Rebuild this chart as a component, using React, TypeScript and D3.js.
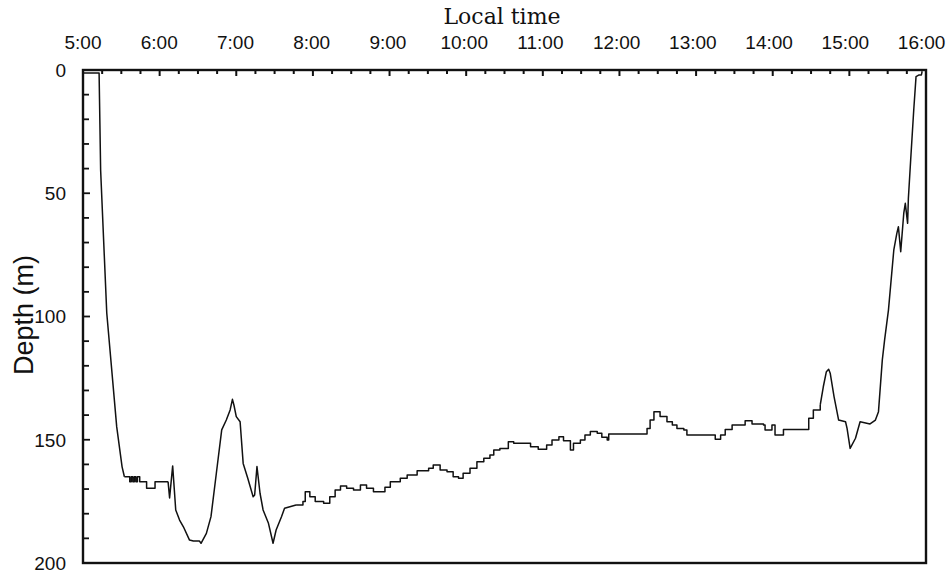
import * as d3 from "d3";

// dive profile: time (decimal hours, local) and depth (m)
const times = [
  5.0, 5.21, 5.23, 5.31, 5.44, 5.51, 5.54, 5.61, 5.63, 5.65, 5.67, 5.69, 5.71, 5.74,
  5.83, 5.94, 6.11, 6.13, 6.17, 6.21, 6.26, 6.31, 6.39, 6.44, 6.52, 6.54, 6.61, 6.67,
  6.74, 6.81, 6.87, 6.92, 6.95, 6.97, 7.0, 7.05, 7.09, 7.15, 7.22, 7.24, 7.27, 7.31,
  7.35, 7.42, 7.48, 7.52, 7.59, 7.63, 7.78, 7.87, 7.9, 7.96, 8.03, 8.14, 8.22, 8.29,
  8.36, 8.44, 8.53, 8.62, 8.7, 8.79, 8.88, 8.94, 9.01, 9.14, 9.23, 9.36, 9.51, 9.57,
  9.66, 9.75, 9.83, 9.9, 9.96, 10.05, 10.14, 10.23, 10.31, 10.36, 10.44, 10.55, 10.62,
  10.79, 10.84, 10.94, 11.05, 11.12, 11.21, 11.27, 11.36, 11.4, 11.49, 11.55, 11.62,
  11.71, 11.77, 11.84, 11.86, 12.31, 12.36, 12.4, 12.45, 12.49, 12.53, 12.62, 12.69,
  12.75, 12.84, 12.88, 13.19, 13.25, 13.32, 13.38, 13.47, 13.58, 13.64, 13.73, 13.88,
  13.9, 13.99, 14.03, 14.14, 14.4, 14.47, 14.53, 14.62, 14.66, 14.7, 14.73, 14.75,
  14.8, 14.86, 14.95, 14.97, 15.01, 15.08, 15.14, 15.27, 15.34, 15.38, 15.43, 15.46,
  15.51, 15.58, 15.62, 15.64, 15.67, 15.71, 15.73, 15.76, 15.77, 15.8, 15.84, 15.87,
  15.91, 15.94, 15.95,
];
const depths = [
  1.2, 1.2, 40.6, 98.6, 144.8, 161, 165, 167, 165, 167, 165, 167, 165, 167,
  169.7, 167, 167, 173.6, 160.6, 178.5, 182.6, 185.3, 190.7, 191.1, 191.1, 192, 188, 181.2,
  163.6, 146, 142, 137.9, 133.6, 136, 140.6, 142.7, 159.6, 165.6, 173.1, 172.4, 160.9, 171.7,
  178.5, 183.9, 192, 186.6, 181.2, 177.8, 176.5, 175.1, 171.1, 173.1, 175.1, 175.8, 173.1, 170.4,
  168.8, 169.7, 170.4, 168.4, 169.7, 171.1, 171.1, 169.3, 167, 165.6, 164.3, 162.6, 161.6, 160.2,
  162.3, 163, 165, 165.6, 163.6, 161.6, 158.9, 157.5, 156.2, 154.2, 153.5, 150.8, 151.4,
  151.4, 152.8, 153.9, 152.1, 150.1, 148.8, 150.4, 154.2, 151.4, 150.1, 148.1, 146.7,
  147.4, 149, 150.1, 147.7, 147.7, 145.4, 142, 138.6, 138.6, 140.6, 142.7, 144,
  145.4, 146, 148.1, 148.1, 149.8, 148.1, 145.8, 144, 144, 142.3, 143.6, 144,
  146, 144, 148.1, 145.8, 145.8, 141.3, 137.9, 135.9, 128.5, 122.4, 121.4, 123,
  132.5, 142, 142.7, 145.4, 153.5, 149.4, 142.7, 143.6, 142, 138.6, 117.6, 109.5,
  97.4, 73, 66.2, 63.6, 73.7, 58.1, 54.1, 62.2, 52, 36.5, 16.2, 2.7,
  2, 2, 0.5,
];

// plateau stretches of the record are drawn as steps (sensor resolution)
const stepRanges: [number, number][] = [
  [5.54, 6.11],
  [7.78, 14.62],
];

const hourLabels = ["5:00", "6:00", "7:00", "8:00", "9:00", "10:00", "11:00", "12:00", "13:00", "14:00", "15:00", "16:00"];
const depthTicks = [0, 50, 100, 150, 200];

const W = 947;
const H = 573;
const L = 83;
const R = 926;
const T = 70;
const B = 563;

export default function App() {
  const x = d3.scaleLinear().domain([5, 16]).range([L, R]);
  const y = d3.scaleLinear().domain([0, 200]).range([T, B]);

  const pts: [number, number][] = times.map((t, i) => [t, depths[i]]);

  // split the record into linear and stepped pieces
  const edges = [5, ...stepRanges.flat(), 16];
  const pieces = d3.range(edges.length - 1).map((k) => ({
    stepped: k % 2 === 1,
    data: pts.filter((d) => d[0] >= edges[k] && d[0] <= edges[k + 1]),
  }));

  const line = d3
    .line<[number, number]>()
    .x((d) => x(d[0]))
    .y((d) => y(d[1]));
  const stepLine = d3
    .line<[number, number]>()
    .x((d) => x(d[0]))
    .y((d) => y(d[1]))
    .curve(d3.curveStepAfter);

  const quarters = d3.range(5, 16.001, 0.25);
  const tens = d3.range(0, 200.001, 10);
  const sans = "'Liberation Sans', Arial, sans-serif";

  return (
    <svg
      width={W}
      height={H}
      style={{ position: "absolute", left: 0, top: 0, background: "#fff" }}
    >
      <text
        x={502}
        y={24}
        textAnchor="middle"
        fontFamily="'DejaVu Serif', serif"
        fontSize={22}
        fill="#111"
      >
        Local time
      </text>
      {hourLabels.map((lab, i) => (
        <text
          key={lab}
          x={x(5 + i) - i * 0.4}
          y={49}
          textAnchor="middle"
          fontFamily={sans}
          fontSize={19}
          fill="#111"
        >
          {lab}
        </text>
      ))}
      {depthTicks.map((d) => (
        <text
          key={d}
          x={66}
          y={y(d)}
          dy="0.36em"
          textAnchor="end"
          fontFamily={sans}
          fontSize={19}
          fill="#111"
        >
          {d}
        </text>
      ))}
      <text
        transform="translate(33,315) rotate(-90)"
        textAnchor="middle"
        fontFamily={sans}
        fontSize={27}
        fill="#111"
      >
        Depth (m)
      </text>

      {/* top ticks, every 15 min */}
      {quarters.map((q, i) => (
        <line
          key={"q" + i}
          x1={x(q)}
          x2={x(q)}
          y1={T}
          y2={T + (i % 4 === 0 ? 6 : 4)}
          stroke="#111"
          strokeWidth={2}
        />
      ))}
      {/* left ticks, every 10 m */}
      {tens.map((d, i) => (
        <line
          key={"d" + i}
          x1={L}
          x2={L + (d % 50 === 0 ? 7 : 6)}
          y1={y(d)}
          y2={y(d)}
          stroke="#111"
          strokeWidth={1.8}
        />
      ))}

      <rect
        x={L}
        y={T}
        width={R - L}
        height={B - T}
        fill="none"
        stroke="#111"
        strokeWidth={2.4}
      />

      <g fill="none" stroke="#111" strokeWidth={1.5} strokeLinejoin="round">
        {pieces.map((p, k) => (
          <path key={k} d={(p.stepped ? stepLine(p.data) : line(p.data)) ?? ""} />
        ))}
      </g>
    </svg>
  );
}
